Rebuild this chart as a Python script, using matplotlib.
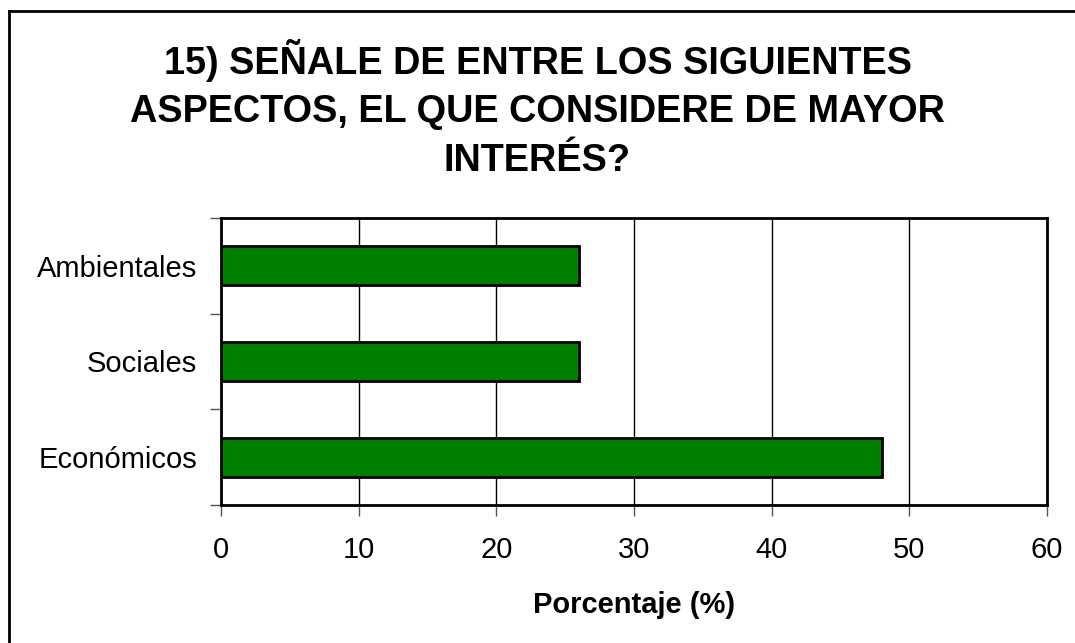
import matplotlib.pyplot as plt
from matplotlib.lines import Line2D
import numpy as np

categories = ['Económicos', 'Sociales', 'Ambientales']
values = [48, 26, 26]
x_ticks = [0, 10, 20, 30, 40, 50, 60]

plt.rcParams['font.family'] = ['Liberation Sans', 'DejaVu Sans']

fig = plt.figure(figsize=(10.75, 6.43), dpi=100)
ax = fig.add_axes([221 / 1075, 1 - 505 / 643, 826 / 1075, 287 / 643])

pos = np.arange(len(categories))
ax.barh(pos, values, height=0.41, color='#008000', edgecolor='black',
        linewidth=2, zorder=3)

ax.set_xlim(0, 60)
ax.set_ylim(-0.5, len(categories) - 0.5)
ax.set_xticks(x_ticks)
ax.set_xticklabels([str(t) for t in x_ticks], fontsize=21)
ax.set_yticks(pos)
ax.set_yticklabels(categories, fontsize=21)
ax.tick_params(axis='y', length=0, pad=17)
ax.set_yticks(np.arange(-0.5, len(categories), 1), minor=True)
ax.tick_params(axis='y', which='minor', length=8, width=1, color='#555555')
ax.tick_params(axis='x', length=8, width=1, color='#555555', pad=14)
ax.xaxis.grid(True, color='black', linewidth=1, zorder=0)
ax.set_axisbelow(True)
for s in ax.spines.values():
    s.set_linewidth(2)
    s.set_color('black')

ax.set_xlabel('Porcentaje (%)', fontsize=21, fontweight='bold', labelpad=20)

fig.text(0.5, 1 - 109 / 643,
         '15) SEÑALE DE ENTRE LOS SIGUIENTES\nASPECTOS, EL QUE CONSIDERE DE MAYOR\nINTERÉS?',
         ha='center', va='center', fontsize=27.3, fontweight='bold',
         linespacing=1.45)

# outer frame (left and top edges)
fig.add_artist(Line2D([9 / 1075, 9 / 1075], [0, 1 - 11 / 643],
                      transform=fig.transFigure, color='black', lw=2))
fig.add_artist(Line2D([9 / 1075, 1], [1 - 11 / 643, 1 - 11 / 643],
                      transform=fig.transFigure, color='black', lw=2))

fig.savefig('out.png', dpi=100)
